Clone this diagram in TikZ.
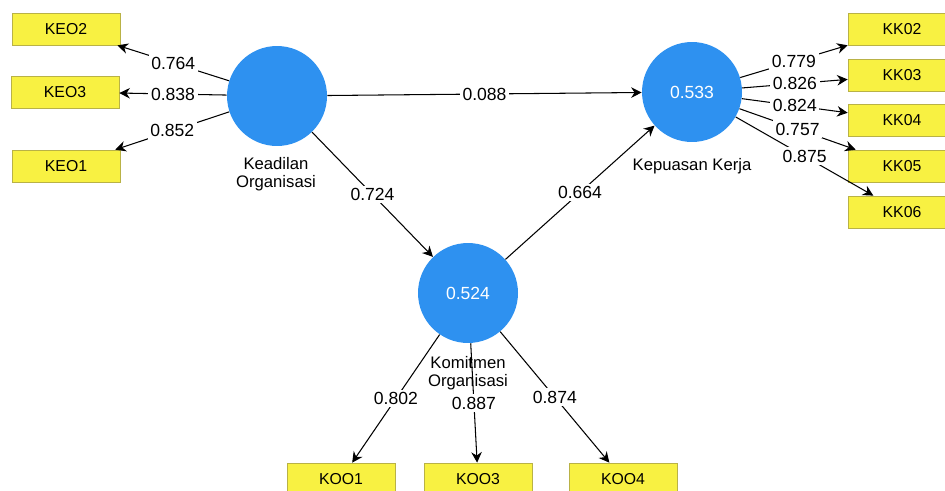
\documentclass[tikz,border=0pt]{standalone}
\usepackage{fontspec}
\setmainfont{Liberation Sans}
\usepackage{xcolor}
\usetikzlibrary{arrows.meta}
\definecolor{latentblue}{RGB}{46,145,240}
\definecolor{itemyellow}{RGB}{248,241,66}
\definecolor{itemedge}{RGB}{185,178,70}

\begin{document}
\begin{tikzpicture}[x=0.02cm,y=-0.02cm,
    latent/.style={circle,fill=latentblue,minimum size=2cm,inner sep=0pt,text=white,font=\fontsize{10}{12}\selectfont},
    item/.style={rectangle,draw=itemedge,fill=itemyellow,minimum width=2.16cm,minimum height=0.64cm,inner sep=0pt,font=\fontsize{9}{11}\selectfont},
    link/.style={-{Stealth[length=6pt,width=6pt]},line width=0.6pt},
    weight/.style={midway,fill=white,inner sep=1.5pt,font=\fontsize{10}{12}\selectfont},
    caption/.style={align=center,font=\fontsize{9.5}{10.5}\selectfont}]
    % Frame
    \clip (0,0) rectangle (945,490);
    \fill[white] (0,0) rectangle (945,490);

    % Latent variables
    \node[latent] (keadilan) at (277,96) {};
    \node[latent] (kepuasan) at (692,92) {0.533};
    \node[latent] (komitmen) at (468,293) {0.524};
    \node[caption] (keadilanlbl) at (276,174) {Keadilan\\Organisasi};
    \node[caption] (kepuasanlbl) at (692,166) {Kepuasan Kerja};

    % Indicators
    \node[item] (keo2) at (66,29) {KEO2};
    \node[item] (keo3) at (65,92) {KEO3};
    \node[item] (keo1) at (66,166) {KEO1};
    \node[item] (kk02) at (902,29) {KK02};
    \node[item] (kk03) at (902,75) {KK03};
    \node[item] (kk04) at (902,120) {KK04};
    \node[item] (kk05) at (902,166) {KK05};
    \node[item] (kk06) at (902,212) {KK06};
    \node[item] (koo1) at (341,479) {KOO1};
    \node[item] (koo3) at (478,479) {KOO3};
    \node[item] (koo4) at (623,479) {KOO4};

    % Outer loadings
    \draw[link] (keadilan) -- (keo2) node[weight] {0.764};
    \draw[link] (keadilan) -- (keo3) node[weight] {0.838};
    \draw[link] (keadilan) -- (keo1) node[weight] {0.852};
    \draw[link] (kepuasan) -- (kk02) node[weight] {0.779};
    \draw[link] (kepuasan) -- (kk03) node[weight] {0.826};
    \draw[link] (kepuasan) -- (kk04) node[weight] {0.824};
    \draw[link] (kepuasan) -- (kk05) node[weight] {0.757};
    \draw[link] (kepuasan) -- (kk06) node[weight] {0.875};
    \draw[link] (komitmen) -- (koo1) node[weight] {0.802};
    \draw[link] (komitmen) -- (koo3) node[weight] {0.887};
    \draw[link] (komitmen) -- (koo4) node[weight] {0.874};

    % Path coefficients
    \draw[link] (keadilan) -- (kepuasan) node[weight] {0.088};
    \draw[link] (keadilan) -- (komitmen) node[weight] {0.724};
    \draw[link] (komitmen) -- (kepuasan) node[weight] {0.664};

    \node[caption] (komitmenlbl) at (468,373) {Komitmen\\Organisasi};
\end{tikzpicture}
\end{document}
